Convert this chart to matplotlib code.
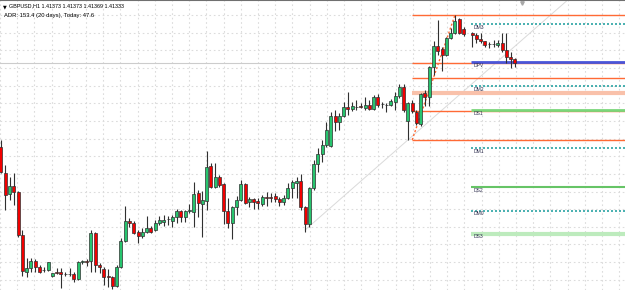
import matplotlib
matplotlib.use("Agg")
import matplotlib.pyplot as plt
import matplotlib.transforms as mtransforms
import numpy as np

# GBPUSD H1 candles, oldest first (index 109 is an empty slot on the chart)
opens = [1.40384, 1.40090, 1.39852, 1.39942, 1.39874, 1.39387, 1.38968, 1.39013, 1.39093, 1.39025,
         1.38991, 1.38991, 1.38923, 1.38968, 1.38968, 1.38945, 1.38945, 1.38945, 1.38889, 1.39081,
         1.39093, 1.39093, 1.39410, 1.39047, 1.39002, 1.38923, 1.38911, 1.38809, 1.39025, 1.39319,
         1.39546, 1.39523, 1.39421, 1.39376, 1.39421, 1.39467, 1.39444, 1.39523, 1.39535, 1.39569,
         1.39546, 1.39591, 1.39659, 1.39591, 1.39659, 1.39648, 1.39863, 1.39739, 1.39773, 1.40169,
         1.39931, 1.40044, 1.39965, 1.39659, 1.39523, 1.39705, 1.39784, 1.39965, 1.39761, 1.39795,
         1.39773, 1.39739, 1.39818, 1.39818, 1.39829, 1.39795, 1.39761, 1.39807, 1.39920, 1.39976,
         1.39999, 1.39705, 1.39512, 1.39920, 1.40192, 1.40305, 1.40407, 1.40396, 1.40736, 1.40668,
         1.40736, 1.40838, 1.40815, 1.40838, 1.40849, 1.40826, 1.40860, 1.40815, 1.40951, 1.40872,
         1.40860, 1.40860, 1.40894, 1.40962, 1.41064, 1.40679, 1.40883, 1.40781, 1.40645, 1.40996,
         1.40951, 1.41291, 1.41529, 1.41495, 1.41427, 1.41619, 1.41676, 1.41835, 1.41721, np.nan,
         1.41676, 1.41653, 1.41608, 1.41585, 1.41551, 1.41551, 1.41540, 1.41563, 1.41483, 1.41404,
         1.41382]
highs = [1.40464, 1.40180, 1.40044, 1.40090, 1.39886, 1.39444, 1.39127, 1.39127, 1.39115, 1.39047,
         1.39025, 1.39081, 1.38957, 1.39013, 1.39013, 1.38968, 1.39013, 1.38968, 1.39093, 1.39104,
         1.39115, 1.39444, 1.39421, 1.39070, 1.39025, 1.39002, 1.38917, 1.39047, 1.39353, 1.39716,
         1.39580, 1.39546, 1.39444, 1.39467, 1.39603, 1.39489, 1.39557, 1.39603, 1.39614, 1.39603,
         1.39614, 1.39682, 1.39671, 1.39671, 1.39739, 1.39988, 1.39897, 1.39886, 1.40339, 1.40203,
         1.40203, 1.40067, 1.39976, 1.39807, 1.39716, 1.39829, 1.40010, 1.39976, 1.39818, 1.39807,
         1.39807, 1.39841, 1.39874, 1.39863, 1.39863, 1.39818, 1.39841, 1.39976, 1.40010, 1.40044,
         1.40078, 1.39716, 1.39931, 1.40237, 1.40373, 1.40464, 1.40668, 1.40781, 1.40804, 1.40770,
         1.40894, 1.41008, 1.40894, 1.40917, 1.40883, 1.40951, 1.40917, 1.40974, 1.40985, 1.40894,
         1.40883, 1.40928, 1.41008, 1.41095, 1.41098, 1.40894, 1.40917, 1.40804, 1.40996, 1.41030,
         1.41302, 1.41585, 1.41823, 1.41517, 1.41631, 1.41733, 1.41880, 1.41846, 1.41744, np.nan,
         1.41687, 1.41676, 1.41676, 1.41591, 1.41574, 1.41597, 1.41597, 1.41676, 1.41676, 1.41461,
         1.41393]
lows = [1.40090, 1.39671, 1.39784, 1.39727, 1.39365, 1.38923, 1.38911, 1.38968, 1.38968, 1.38957,
        1.38968, 1.38979, 1.38911, 1.38945, 1.38787, 1.38923, 1.38923, 1.38855, 1.38877, 1.39059,
        1.39036, 1.38968, 1.38968, 1.38957, 1.38821, 1.38798, 1.38775, 1.38798, 1.39013, 1.39308,
        1.39478, 1.39399, 1.39297, 1.39353, 1.39410, 1.39410, 1.39433, 1.39501, 1.39489, 1.39501,
        1.39478, 1.39523, 1.39535, 1.39535, 1.39637, 1.39478, 1.39591, 1.39365, 1.39671, 1.39920,
        1.39920, 1.39931, 1.39512, 1.39467, 1.39342, 1.39614, 1.39773, 1.39744, 1.39705, 1.39682,
        1.39682, 1.39716, 1.39716, 1.39761, 1.39761, 1.39716, 1.39727, 1.39795, 1.39807, 1.39807,
        1.39671, 1.39421, 1.39478, 1.39897, 1.40101, 1.40214, 1.40384, 1.40384, 1.40566, 1.40577,
        1.40724, 1.40747, 1.40792, 1.40804, 1.40826, 1.40804, 1.40804, 1.40804, 1.40838, 1.40826,
        1.40781, 1.40849, 1.40804, 1.40940, 1.40781, 1.40464, 1.40770, 1.40634, 1.40622, 1.40849,
        1.40849, 1.41200, 1.41427, 1.41246, 1.41416, 1.41608, 1.41665, 1.41665, 1.41642, np.nan,
        1.41517, 1.41563, 1.41563, 1.41517, 1.41506, 1.41517, 1.41517, 1.41461, 1.41336, 1.41280,
        1.41291]
closes = [1.40101, 1.39841, 1.39942, 1.39874, 1.39387, 1.38979, 1.39013, 1.39093, 1.39025, 1.38968,
          1.38985, 1.39081, 1.38957, 1.38962, 1.38945, 1.38940, 1.38942, 1.38889, 1.39081, 1.39087,
          1.39081, 1.39410, 1.39047, 1.39025, 1.38911, 1.38906, 1.38809, 1.39025, 1.39319, 1.39546,
          1.39523, 1.39410, 1.39376, 1.39421, 1.39467, 1.39421, 1.39523, 1.39557, 1.39557, 1.39566,
          1.39591, 1.39659, 1.39591, 1.39659, 1.39665, 1.39852, 1.39750, 1.39784, 1.40158, 1.39931,
          1.40044, 1.39954, 1.39659, 1.39523, 1.39705, 1.39784, 1.39965, 1.39750, 1.39795, 1.39761,
          1.39750, 1.39818, 1.39812, 1.39812, 1.39795, 1.39761, 1.39807, 1.39920, 1.39988, 1.39999,
          1.39705, 1.39512, 1.39920, 1.40192, 1.40305, 1.40407, 1.40577, 1.40736, 1.40668, 1.40736,
          1.40838, 1.40815, 1.40849, 1.40832, 1.40843, 1.40860, 1.40815, 1.40951, 1.40860, 1.40866,
          1.40855, 1.40906, 1.40962, 1.41064, 1.40804, 1.40883, 1.40792, 1.40656, 1.40985, 1.40951,
          1.41291, 1.41529, 1.41472, 1.41427, 1.41619, 1.41676, 1.41812, 1.41676, 1.41665, np.nan,
          1.41653, 1.41608, 1.41585, 1.41540, 1.41546, 1.41546, 1.41563, 1.41483, 1.41404, 1.41382,
          1.41333]

# Fibonacci retracement (orange) drawn from the low to the high
fib_anchor_idx = [96, 106]
fib_anchor_price = [1.40464, 1.41880]
fib_levels = [1.41880, 1.41336, 1.41163, 1.41000, 1.40792, 1.40464]

# daily pivot / mid-pivot lines, starting at the first bar of the day
pivot_start_idx = 110
pivot_names = ["DM3", "DPV", "DM2", "DS1", "DM1", "DS2", "DM0", "DS3"]
pivot_prices = [1.41775, 1.41344, 1.41076, 1.40804, 1.40370, 1.39928, 1.39663, 1.39402]

# trendline ray through two swing lows
trend_idx = [71, 95]
trend_price = [1.39444, 1.40464]

title_text = "GBPUSD,H1 1.41373 1.41373 1.41369 1.41333"
adr_text = "ADR: 153.4 (20 days), Today: 47.6"

BULL = "#27c46e"
BEAR = "#f20000"
EDGE = "#303030"
TEXT_FONT = "Liberation Sans"

fig = plt.figure(figsize=(6.25, 2.9), dpi=100)
ax = fig.add_axes([0, 0, 1, 1])
ax.set_xlim(-0.233, 145.7)
ax.set_ylim(1.38764, 1.42050)

# MT4-style dotted grid
for gx in np.arange(-0.21, 146, 4.016):
    ax.axvline(gx, color="#dcdcdc", lw=0.8, ls=(0, (1.5, 2.5)), zorder=0)
for gy in np.arange(1.4188, 1.3870, -0.002):
    ax.axhline(gy, color="#dcdcdc", lw=0.8, ls=(0, (1.5, 2.5)), zorder=0)

o = np.array(opens)
h = np.array(highs)
l = np.array(lows)
c = np.array(closes)
idx = np.arange(len(o))
ok = ~np.isnan(o)

# bid line
ax.axhline(closes[-1], color="#cccccc", lw=0.8, zorder=1)

# trendline ray
slope = (trend_price[1] - trend_price[0]) / (trend_idx[1] - trend_idx[0])
ray_x = np.array([trend_idx[0], 146])
ax.plot(ray_x, trend_price[0] + slope * (ray_x - trend_idx[0]),
        color="#dadada", lw=0.7, zorder=1)

# candles
ax.vlines(idx[ok], l[ok], h[ok], color=EDGE, lw=0.8, zorder=3)
up = ok & (c >= o)
dn = ok & (c < o)
ax.bar(idx[up], np.maximum(c[up] - o[up], 0.00003), bottom=o[up], width=0.7,
       color=BULL, edgecolor=EDGE, lw=0.5, zorder=4)
ax.bar(idx[dn], np.maximum(o[dn] - c[dn], 0.00003), bottom=c[dn], width=0.7,
       color=BEAR, edgecolor=EDGE, lw=0.5, zorder=4)

# fibonacci levels
fib_styles = {1.41000: dict(color="#f9c1aa", lw=3.0)}
for lvl in fib_levels:
    st = fib_styles.get(lvl, dict(color="#ff6a35", lw=1.0))
    ax.plot([fib_anchor_idx[0], 146], [lvl, lvl], zorder=2, solid_capstyle="butt", **st)
ax.plot(fib_anchor_idx, fib_anchor_price, color="#ff6a35", lw=1.0, ls=(0, (1.5, 1.5)), zorder=2)

# pivot lines
pivot_styles = {
    "DPV": dict(color="#4a55d8", lw=2.0, ls="-"),
    "DS1": dict(color="#7ad67a", lw=2.0, ls="-"),
    "DS2": dict(color="#66c466", lw=1.5, ls="-"),
    "DS3": dict(color="#bdebbd", lw=3.0, ls="-"),
}
for name, price in zip(pivot_names, pivot_prices):
    st = pivot_styles.get(name, dict(color="#2aa3a3", lw=1.2, ls=(0, (1.2, 1.2))))
    ax.plot([pivot_start_idx - 0.3, 146], [price, price], zorder=2,
            solid_capstyle="butt", **st)
    ax.text(pivot_start_idx + 0.3, price - 0.00009, name, fontsize=3.6,
            family=TEXT_FONT, color="#303050", va="top", ha="left", zorder=5)

# header text
ax.text(0.005, 0.985, "\u25bc", transform=ax.transAxes, fontsize=3.5,
        family="DejaVu Sans", color="black", va="top", ha="left")
ax.text(0.014, 0.99, title_text, transform=ax.transAxes, fontsize=3.9,
        family=TEXT_FONT, color="black", va="top", ha="left")
ax.text(0.006, 0.955, adr_text, transform=ax.transAxes, fontsize=4.2,
        family=TEXT_FONT, color="black", va="top", ha="left")

# chart-shift marker at the top
trans = mtransforms.blended_transform_factory(ax.transData, ax.transAxes)
ax.plot([121.6], [0.99], marker="v", ms=2.5, color="#a8a8a8", transform=trans,
        clip_on=False, zorder=6)

for side in ["left", "right", "bottom"]:
    ax.spines[side].set_visible(False)
ax.spines["top"].set_color("#707070")
ax.spines["top"].set_linewidth(1.5)
ax.set_xticks([])
ax.set_yticks([])

fig.savefig("out.png", dpi=100, facecolor="white")
